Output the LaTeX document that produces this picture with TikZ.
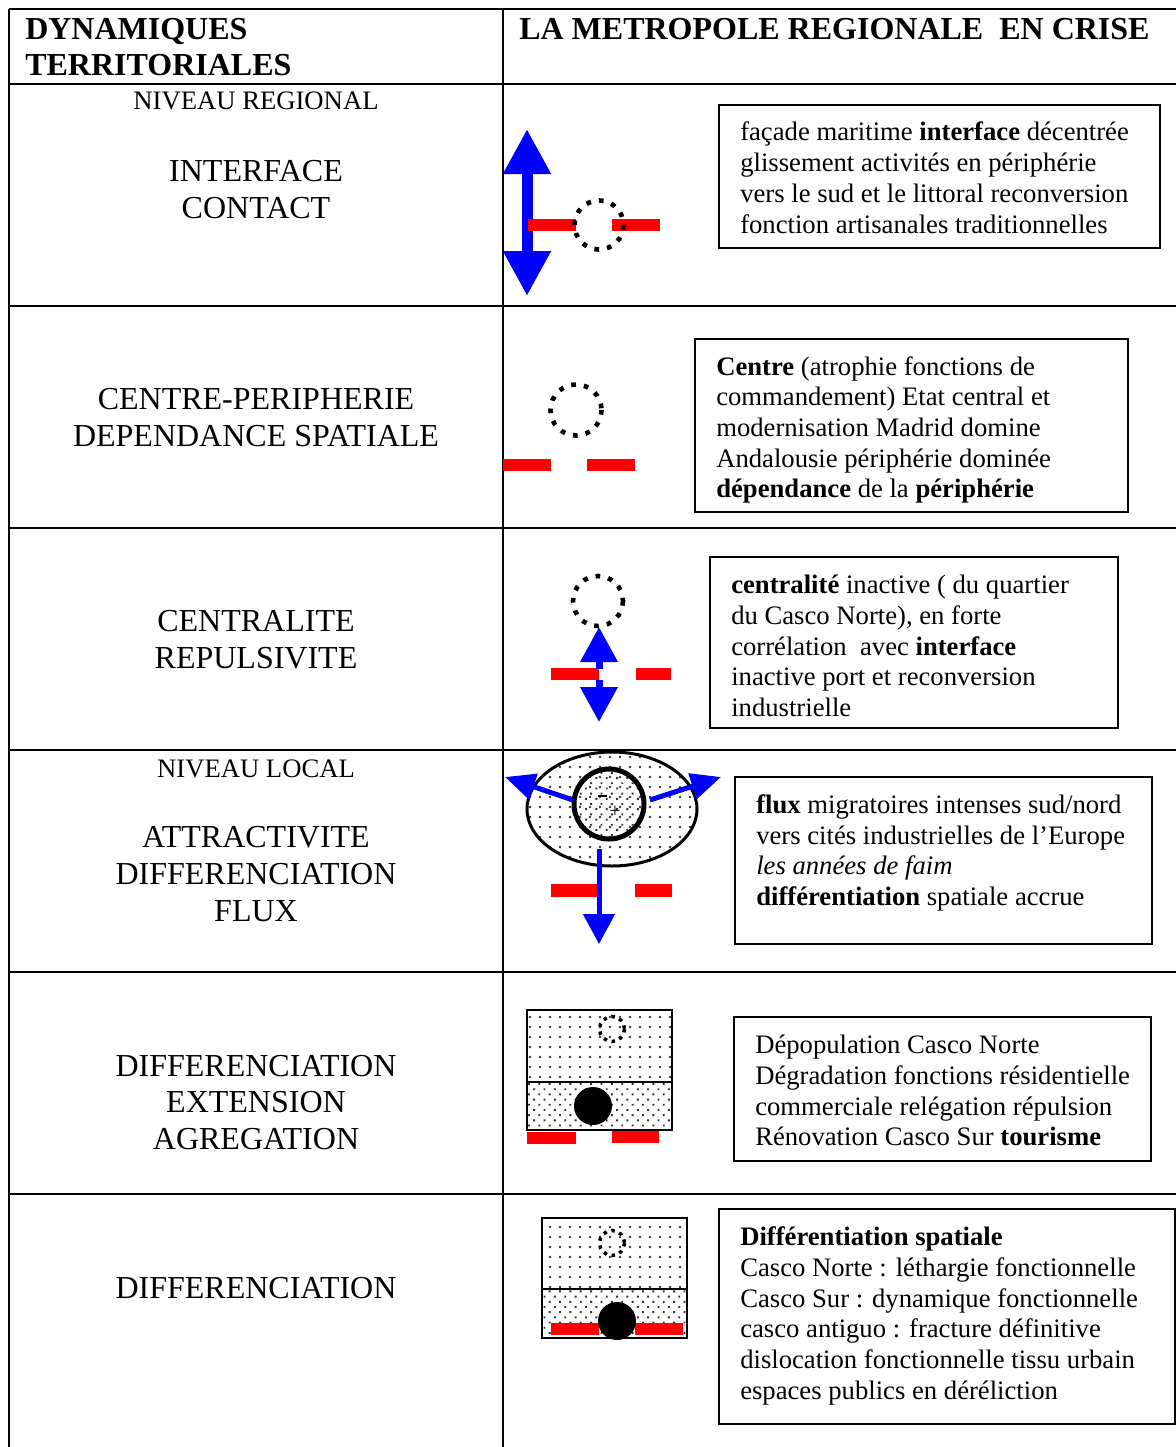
\documentclass[tikz,border=0pt]{standalone}
\usepackage{fontspec}
\setmainfont{Liberation Serif}
\usetikzlibrary{arrows.meta,patterns.meta,fit}
\begin{document}
\begin{tikzpicture}[x=0.75pt,y=-0.75pt,
  rule/.style={line width=1.5pt},
  infobox/.style={draw, line width=1.1pt, inner sep=0pt},
  bodytxt/.style={anchor=base west, inner sep=0pt, font=\fontsize{20}{23}\selectfont},
  headtxt/.style={anchor=base west, inner sep=0pt, font=\fontsize{24}{28}\selectfont\bfseries},
  themetxt/.style={anchor=base, inner sep=0pt, font=\fontsize{24}{28}\selectfont},
  tiertxt/.style={anchor=base, inner sep=0pt, font=\fontsize{20}{23}\selectfont},
  redbar/.style={fill=red},
  dotring/.style={draw, line width=3.5pt, dash pattern=on 3.5pt off 6.1pt},
  smallring/.style={draw, line width=2.6pt, dash pattern=on 2.6pt off 3.6pt},
  sparsedots/.style={pattern={Dots[distance=7.5pt,radius=1pt]}, pattern color=black!80},
  densedots/.style={pattern={Dots[distance=5.5pt,angle=45,radius=1pt]}, pattern color=black!80},
  bigarrow/.style={blue, line width=8.25pt, {Triangle[length=33.75pt,width=33.75pt]}-{Triangle[length=33.75pt,width=33.75pt]}},
  midarrow/.style={blue, line width=5.25pt, -{Triangle[length=26.25pt,width=27pt]}},
  fluxarrow/.style={blue, line width=3.75pt, -{Triangle[length=22.5pt,width=19.5pt]}},
  downflux/.style={blue, line width=3.75pt, -{Triangle[length=22.5pt,width=23.25pt]}},
]
\useasboundingbox (0,0) rectangle (1176,1447);

% ---------- table rules ----------
\foreach \yy in {9,84,306,528,750,972,1194}
  \draw[rule] (9,\yy) -- (1176,\yy);
\draw[rule] (9,9) -- (9,1447);
\draw[rule] (503,9) -- (503,1447);

% ---------- header ----------
\node[headtxt] (h1a) at (25,39) {DYNAMIQUES};
\node[headtxt] (h1b) at (25,75) {TERRITORIALES};
\node[headtxt] (h2) at (519,39) {LA METROPOLE REGIONALE\ \ EN CRISE};

% ---------- left column ----------
\node[tiertxt]  (l1a) at (256,109) {NIVEAU REGIONAL};
\node[themetxt] (l1b) at (256,181.5) {INTERFACE};
\node[themetxt] (l1c) at (256,218.5) {CONTACT};
\node[themetxt] (l2a) at (256,409.5) {CENTRE-PERIPHERIE};
\node[themetxt] (l2b) at (256,446.5) {DEPENDANCE SPATIALE};
\node[themetxt] (l3a) at (256,631.5) {CENTRALITE};
\node[themetxt] (l3b) at (256,668.5) {REPULSIVITE};
\node[tiertxt]  (l4a) at (256,777) {NIVEAU LOCAL};
\node[themetxt] (l4b) at (256,847.5) {ATTRACTIVITE};
\node[themetxt] (l4c) at (256,884.5) {DIFFERENCIATION};
\node[themetxt] (l4d) at (256,921.5) {FLUX};
\node[themetxt] (l5a) at (256,1076.5) {DIFFERENCIATION};
\node[themetxt] (l5b) at (256,1112.5) {EXTENSION};
\node[themetxt] (l5c) at (256,1149.5) {AGREGATION};
\node[themetxt] (l6a) at (256,1298.5) {DIFFERENCIATION};

% ---------- row 1 : interface / contact ----------
\coordinate (a1t) at (527,129);
\coordinate (a1b) at (527,296);
\draw[bigarrow] (a1t) -- (a1b);
\fill[redbar] (528,219) rectangle (576,231);
\fill[redbar] (612,219) rectangle (660,231);
\draw[dotring] (599,225) circle[radius=24.5];

\node[infobox, fit={(719,105) (1160,248)}] (box1) {};
\node[bodytxt] (t1a) at (740,140) {façade maritime \textbf{interface} décentrée};
\node[bodytxt] (t1b) at (740,171) {glissement activités en périphérie};
\node[bodytxt] (t1c) at (740,202) {vers le sud et le littoral reconversion};
\node[bodytxt] (t1d) at (740,233) {fonction artisanales traditionnelles};

% ---------- row 2 : centre / periphery ----------
\draw[dotring] (576,410) circle[radius=25.5];
\fill[redbar] (503,459) rectangle (551,471);
\fill[redbar] (587,459) rectangle (635,471);

\node[infobox, fit={(695,339) (1128,512)}] (box2) {};
\node[bodytxt] (t2a) at (716,375) {\textbf{Centre} (atrophie fonctions de};
\node[bodytxt] (t2b) at (716,405) {commandement) Etat central et};
\node[bodytxt] (t2c) at (716,436) {modernisation Madrid domine};
\node[bodytxt] (t2d) at (716,467) {Andalousie périphérie dominée};
\node[bodytxt] (t2e) at (716,497) {\textbf{dépendance} de la \textbf{périphérie}};

% ---------- row 3 : centrality / repulsion ----------
\draw[dotring] (598,601) circle[radius=25];
\fill[redbar] (551,668) rectangle (599,680);
\fill[redbar] (636,668) rectangle (671,680);
\coordinate (a3o) at (599,669);
\coordinate (a3u) at (599,627);
\coordinate (a3p) at (599,680);
\coordinate (a3d) at (599,722);
\draw[midarrow] (a3o) -- (a3u);
\draw[midarrow] (a3p) -- (a3d);

\node[infobox, fit={(710,557) (1118,728)}] (box3) {};
\node[bodytxt] (t3a) at (731,593) {\textbf{centralité} inactive ( du quartier};
\node[bodytxt] (t3b) at (731,624) {du Casco Norte), en forte};
\node[bodytxt] (t3c) at (731,655) {corrélation\ \ avec \textbf{interface}};
\node[bodytxt] (t3d) at (731,685) {inactive port et reconversion};
\node[bodytxt] (t3e) at (731,716) {industrielle};

% ---------- row 4 : attraction / flows ----------
\draw[line width=2.25pt, sparsedots] (612,809) ellipse[x radius=85, y radius=57];
\draw[line width=3.75pt, densedots] (609,804) circle[radius=35];
\draw[line width=1.5pt] (598,796) -- (607,796);
\node[inner sep=0pt, font=\fontsize{15}{15}\selectfont] (plus) at (615,812) {+};
\fill[redbar] (551,884) rectangle (599,897);
\fill[redbar] (635,884) rectangle (672,897);
\coordinate (f4l0) at (573,800);
\coordinate (f4l) at (505,777);
\coordinate (f4r0) at (650,800);
\coordinate (f4r) at (721,777);
\coordinate (f4d0) at (599,849);
\coordinate (f4d) at (599,944);
\draw[fluxarrow] (f4l0) -- (f4l);
\draw[fluxarrow] (f4r0) -- (f4r);
\draw[downflux] (f4d0) -- (f4d);

\node[infobox, fit={(735,777) (1152,944)}] (box4) {};
\node[bodytxt] (t4a) at (756,813) {\textbf{flux} migratoires intenses sud/nord};
\node[bodytxt] (t4b) at (756,844) {vers cités industrielles de l’Europe};
\node[bodytxt] (t4c) at (756,874) {\textit{les années de faim}};
\node[bodytxt] (t4d) at (756,905) {\textbf{différentiation} spatiale accrue};

% ---------- row 5 : differentiation / extension ----------
\draw[line width=1.5pt, sparsedots] (527,1010) rectangle (672,1082);
\draw[line width=1.5pt, densedots] (527,1082) rectangle (672,1130);
\draw[smallring] (612,1029) circle[radius=12.5];
\fill (593,1106) circle[radius=19];
\fill[redbar] (527,1132) rectangle (576,1144);
\fill[redbar] (612,1131) rectangle (659,1143);

\node[infobox, fit={(734,1017) (1151,1161)}] (box5) {};
\node[bodytxt] (t5a) at (755,1053) {Dépopulation Casco Norte};
\node[bodytxt] (t5b) at (755,1084) {Dégradation fonctions résidentielle};
\node[bodytxt] (t5c) at (755,1115) {commerciale relégation répulsion};
\node[bodytxt] (t5d) at (755,1145) {Rénovation Casco Sur \textbf{tourisme}};

% ---------- row 6 : differentiation ----------
\draw[line width=1.5pt, sparsedots] (542,1218) rectangle (687,1289);
\draw[line width=1.5pt, densedots] (542,1289) rectangle (687,1338);
\draw[smallring] (612,1243) circle[radius=12.5];
\fill[redbar] (551,1323) rectangle (599,1335);
\fill[redbar] (635,1323) rectangle (683,1335);
\fill (617,1321) circle[radius=19];

\node[infobox, fit={(719,1209) (1175,1424)}] (box6) {};
\node[bodytxt] (t6a) at (740,1245) {\textbf{Différentiation spatiale}};
\node[bodytxt] (t6b) at (740,1276) {Casco Norte : léthargie fonctionnelle};
\node[bodytxt] (t6c) at (740,1307) {Casco Sur : dynamique fonctionnelle};
\node[bodytxt] (t6d) at (740,1337) {casco antiguo : fracture définitive};
\node[bodytxt] (t6e) at (740,1368) {dislocation fonctionnelle tissu urbain};
\node[bodytxt] (t6f) at (740,1399) {espaces publics en déréliction};
\end{tikzpicture}
\end{document}
